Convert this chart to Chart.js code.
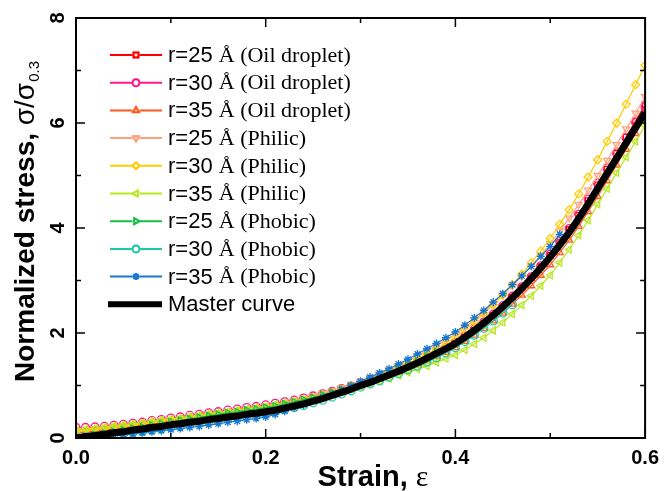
<!DOCTYPE html>
<html>
<head>
<meta charset="utf-8">
<script src="https://cdn.jsdelivr.net/npm/chart.js"></script>
<style>
  body { margin: 0; background: #fff; }
  canvas { display: block; }
</style>
</head>
<body>
<canvas id="stressChart" width="667" height="491"></canvas>
<script>
// strain values shared by every series (phobic runs stop earlier)
const strain = [0.00, 0.01, 0.02, 0.03, 0.04, 0.05, 0.06, 0.07, 0.08, 0.09,
    0.10, 0.11, 0.12, 0.13, 0.14, 0.15, 0.16, 0.17, 0.18, 0.19,
    0.20, 0.21, 0.22, 0.23, 0.24, 0.25, 0.26, 0.27, 0.28, 0.29,
    0.30, 0.31, 0.32, 0.33, 0.34, 0.35, 0.36, 0.37, 0.38, 0.39,
    0.40, 0.41, 0.42, 0.43, 0.44, 0.45, 0.46, 0.47, 0.48, 0.49,
    0.50, 0.51, 0.52, 0.53, 0.54, 0.55, 0.56, 0.57, 0.58, 0.59, 0.60];

const oil25 = [0.10, 0.12, 0.14, 0.16, 0.18, 0.20, 0.22, 0.25, 0.27, 0.30,
    0.32, 0.34, 0.37, 0.39, 0.42, 0.44, 0.46, 0.49, 0.51, 0.54,
    0.57, 0.60, 0.64, 0.68, 0.72, 0.76, 0.81, 0.86, 0.91, 0.96,
    1.02, 1.08, 1.14, 1.21, 1.28, 1.36, 1.44, 1.52, 1.61, 1.70,
    1.80, 1.92, 2.05, 2.19, 2.34, 2.50, 2.68, 2.86, 3.05, 3.26,
    3.48, 3.72, 3.97, 4.24, 4.52, 4.82, 5.12, 5.42, 5.73, 6.04, 6.35];
const oil30 = [0.20, 0.20, 0.21, 0.22, 0.24, 0.26, 0.28, 0.30, 0.33, 0.35,
    0.38, 0.40, 0.43, 0.45, 0.48, 0.50, 0.53, 0.55, 0.58, 0.60,
    0.63, 0.66, 0.69, 0.72, 0.76, 0.80, 0.84, 0.89, 0.94, 0.99,
    1.05, 1.11, 1.17, 1.24, 1.31, 1.38, 1.46, 1.54, 1.63, 1.72,
    1.82, 1.94, 2.07, 2.21, 2.36, 2.52, 2.70, 2.88, 3.07, 3.28,
    3.50, 3.74, 3.99, 4.26, 4.55, 4.85, 5.14, 5.43, 5.72, 6.01, 6.30];
const oil35 = [0.05, 0.07, 0.09, 0.11, 0.14, 0.16, 0.18, 0.21, 0.23, 0.26,
    0.28, 0.30, 0.33, 0.35, 0.38, 0.40, 0.42, 0.45, 0.48, 0.50,
    0.53, 0.56, 0.60, 0.64, 0.68, 0.72, 0.77, 0.82, 0.88, 0.94,
    1.00, 1.06, 1.12, 1.18, 1.25, 1.32, 1.39, 1.47, 1.55, 1.63,
    1.72, 1.84, 1.96, 2.09, 2.23, 2.38, 2.55, 2.72, 2.90, 3.10,
    3.30, 3.53, 3.77, 4.03, 4.31, 4.60, 4.90, 5.20, 5.50, 5.80, 6.10];
const philic25 = [0.15, 0.16, 0.18, 0.19, 0.21, 0.23, 0.25, 0.28, 0.30, 0.33,
    0.35, 0.37, 0.40, 0.42, 0.45, 0.47, 0.50, 0.52, 0.55, 0.57,
    0.60, 0.63, 0.67, 0.71, 0.75, 0.80, 0.85, 0.90, 0.96, 1.02,
    1.08, 1.15, 1.22, 1.30, 1.38, 1.47, 1.56, 1.66, 1.76, 1.87,
    1.98, 2.11, 2.25, 2.40, 2.56, 2.72, 2.90, 3.08, 3.28, 3.48,
    3.70, 3.94, 4.19, 4.45, 4.72, 5.00, 5.29, 5.59, 5.89, 6.19, 6.50];
const philic30 = [0.12, 0.14, 0.16, 0.18, 0.20, 0.22, 0.24, 0.27, 0.29, 0.32,
    0.34, 0.36, 0.39, 0.41, 0.44, 0.46, 0.48, 0.51, 0.53, 0.56,
    0.58, 0.61, 0.65, 0.69, 0.73, 0.77, 0.82, 0.87, 0.93, 0.99,
    1.05, 1.12, 1.19, 1.26, 1.34, 1.42, 1.51, 1.60, 1.70, 1.81,
    1.92, 2.06, 2.21, 2.37, 2.54, 2.72, 2.92, 3.12, 3.34, 3.56,
    3.80, 4.07, 4.35, 4.65, 4.97, 5.30, 5.65, 6.00, 6.36, 6.73, 7.10];
const philic35 = [0.15, 0.17, 0.19, 0.21, 0.23, 0.25, 0.27, 0.29, 0.32, 0.34,
    0.36, 0.38, 0.41, 0.43, 0.46, 0.48, 0.50, 0.53, 0.55, 0.58,
    0.60, 0.63, 0.66, 0.69, 0.72, 0.76, 0.80, 0.84, 0.88, 0.93,
    0.98, 1.03, 1.08, 1.13, 1.19, 1.25, 1.31, 1.37, 1.44, 1.51,
    1.58, 1.68, 1.79, 1.91, 2.05, 2.20, 2.36, 2.53, 2.71, 2.90,
    3.10, 3.34, 3.59, 3.86, 4.15, 4.45, 4.75, 5.05, 5.35, 5.65, 5.95];
const phobic25 = [0.00, 0.03, 0.06, 0.09, 0.12, 0.15, 0.18, 0.21, 0.24, 0.27,
    0.30, 0.33, 0.36, 0.39, 0.42, 0.45, 0.48, 0.50, 0.53, 0.55,
    0.58, 0.61, 0.65, 0.69, 0.73, 0.77, 0.82, 0.87, 0.92, 0.97,
    1.03, 1.09, 1.16, 1.23, 1.30, 1.38, 1.46, 1.55, 1.64];
const phobic30 = [0.00, 0.01, 0.03, 0.04, 0.06, 0.08, 0.10, 0.12, 0.15, 0.17,
    0.20, 0.23, 0.26, 0.28, 0.31, 0.34, 0.37, 0.39, 0.42, 0.44,
    0.47, 0.50, 0.54, 0.58, 0.62, 0.67, 0.72, 0.78, 0.84, 0.90,
    0.97, 1.03, 1.09, 1.16, 1.23, 1.30, 1.37, 1.45, 1.53, 1.62,
    1.72, 1.84, 1.96, 2.09, 2.23, 2.38, 2.54];
const phobic35 = [0.00, 0.01, 0.02, 0.03, 0.05, 0.06, 0.08, 0.10, 0.12, 0.14,
    0.16, 0.18, 0.20, 0.22, 0.25, 0.27, 0.30, 0.32, 0.35, 0.37,
    0.40, 0.45, 0.51, 0.57, 0.63, 0.70, 0.77, 0.84, 0.92, 1.00,
    1.08, 1.16, 1.24, 1.32, 1.41, 1.50, 1.60, 1.70, 1.80, 1.91,
    2.02, 2.15, 2.29, 2.43, 2.59, 2.75, 2.92, 3.09, 3.27, 3.46,
    3.65, 3.88];
const master = [0.00, 0.03, 0.05, 0.07, 0.10, 0.12, 0.15, 0.17, 0.20, 0.22,
    0.25, 0.27, 0.30, 0.32, 0.35, 0.37, 0.40, 0.42, 0.45, 0.47,
    0.50, 0.53, 0.57, 0.61, 0.65, 0.70, 0.75, 0.81, 0.87, 0.93,
    1.00, 1.06, 1.13, 1.20, 1.27, 1.35, 1.43, 1.52, 1.61, 1.70,
    1.80, 1.92, 2.05, 2.19, 2.34, 2.50, 2.67, 2.85, 3.04, 3.24,
    3.45, 3.68, 3.92, 4.18, 4.46, 4.75, 5.04, 5.33, 5.62, 5.91, 6.20];

const xMajorTicks = [0, 0.2, 0.4, 0.6];
const xMinorTicks = [0.1, 0.3, 0.5];
const yMajorTicks = [0, 2, 4, 6, 8];
const yMinorTicks = [1, 3, 5, 7];

// legend text: [sans part, serif part]
const legendText = [
    ['r=25 ', 'Å (Oil droplet)'], ['r=30 ', 'Å (Oil droplet)'], ['r=35 ', 'Å (Oil droplet)'],
    ['r=25 ', 'Å (Philic)'], ['r=30 ', 'Å (Philic)'], ['r=35 ', 'Å (Philic)'],
    ['r=25 ', 'Å (Phobic)'], ['r=30 ', 'Å (Phobic)'], ['r=35 ', 'Å (Phobic)'],
    ['Master curve', '']
];

function toPoints(vals) {
    return vals.map((v, i) => ({ x: strain[i], y: v }));
}

function series(label, vals, color, style, rot, order) {
    return {
        label: label,
        data: toPoints(vals),
        showLine: true,
        borderColor: color,
        borderWidth: 1.2,
        pointStyle: style,
        rotation: rot,
        pointRadius: 4,
        pointBorderWidth: 1.3,
        pointBorderColor: color,
        pointBackgroundColor: 'rgba(255,255,255,0)',
        clip: 0,
        order: order
    };
}

const datasets = [
    series('r=25 Å (Oil droplet)', oil25, '#ff0000', 'rect', 0, 9),
    series('r=30 Å (Oil droplet)', oil30, '#ff1a8c', 'circle', 0, 8),
    series('r=35 Å (Oil droplet)', oil35, '#ff5a1e', 'triangle', 0, 7),
    series('r=25 Å (Philic)', philic25, '#ffa07a', 'triangle', 180, 6),
    series('r=30 Å (Philic)', philic30, '#ffcc00', 'rectRot', 0, 5),
    series('r=35 Å (Philic)', philic35, '#b9e81e', 'triangle', 270, 4),
    series('r=25 Å (Phobic)', phobic25, '#14c046', 'triangle', 90, 3),
    series('r=30 Å (Phobic)', phobic30, '#1ec8aa', 'circle', 0, 2),
    series('r=35 Å (Phobic)', phobic35, '#1478d2', 'star', 0, 1),
    {
        label: 'Master curve',
        data: toPoints(master),
        showLine: true,
        borderColor: '#000',
        borderWidth: 7,
        pointRadius: 0,
        cubicInterpolationMode: 'monotone',
        clip: 0,
        order: 0
    }
];

const SANS = '"Liberation Sans", Arial, sans-serif';
const SERIF = '"Liberation Serif", "Times New Roman", serif';

const decorations = {
    id: 'decorations',
    afterDraw(chart) {
        const ctx = chart.ctx;
        const area = chart.chartArea;
        const xs = chart.scales.x;
        const ys = chart.scales.y;
        ctx.save();
        ctx.strokeStyle = '#000';
        ctx.fillStyle = '#000';

        // frame
        ctx.lineWidth = 2;
        ctx.strokeRect(area.left, area.top, area.right - area.left, area.bottom - area.top);

        // inward ticks on all four sides
        ctx.lineWidth = 1.5;
        ctx.beginPath();
        const xTick = (v, len) => {
            const px = xs.getPixelForValue(v);
            ctx.moveTo(px, area.bottom); ctx.lineTo(px, area.bottom - len);
            ctx.moveTo(px, area.top); ctx.lineTo(px, area.top + len);
        };
        const yTick = (v, len) => {
            const py = ys.getPixelForValue(v);
            ctx.moveTo(area.left, py); ctx.lineTo(area.left + len, py);
            ctx.moveTo(area.right, py); ctx.lineTo(area.right - len, py);
        };
        xMajorTicks.forEach(v => xTick(v, 9));
        xMinorTicks.forEach(v => xTick(v, 5));
        yMajorTicks.forEach(v => yTick(v, 9));
        yMinorTicks.forEach(v => yTick(v, 5));
        ctx.stroke();

        // y tick labels, rotated
        ctx.font = 'bold 20px ' + SANS;
        ctx.textAlign = 'center';
        ctx.textBaseline = 'alphabetic';
        yMajorTicks.forEach(v => {
            ctx.save();
            ctx.translate(64, ys.getPixelForValue(v));
            ctx.rotate(-Math.PI / 2);
            ctx.fillText(String(v), 0, 0);
            ctx.restore();
        });

        // y axis title
        ctx.save();
        const p1 = 'Normalized stress, ';
        const p2 = 'σ/σ';
        const p3 = '0.3';
        ctx.font = 'bold 28px ' + SANS;
        const w1 = ctx.measureText(p1).width;
        ctx.font = '28px ' + SANS;
        const w2 = ctx.measureText(p2).width;
        ctx.font = '15px ' + SANS;
        const w3 = ctx.measureText(p3).width;
        const total = w1 + w2 + w3;
        ctx.translate(34, 222 + total / 2);
        ctx.rotate(-Math.PI / 2);
        ctx.textAlign = 'left';
        ctx.font = 'bold 28px ' + SANS;
        ctx.fillText(p1, 0, 0);
        ctx.font = '28px ' + SANS;
        ctx.fillText(p2, w1, 0);
        ctx.font = '15px ' + SANS;
        ctx.fillText(p3, w1 + w2 + 1, 5);
        ctx.restore();

        // x axis title
        ctx.font = 'bold 29px ' + SANS;
        const s1 = 'Strain, ';
        const sw1 = ctx.measureText(s1).width;
        ctx.font = '30px ' + SERIF;
        const sw2 = ctx.measureText('ε').width;
        const sx = 373 - (sw1 + sw2) / 2;
        ctx.textAlign = 'left';
        ctx.font = 'bold 29px ' + SANS;
        ctx.fillText(s1, sx, 486);
        ctx.font = '30px ' + SERIF;
        ctx.fillText('ε', sx + sw1, 486);

        // legend: line + marker + text
        chart.data.datasets.forEach((ds, i) => {
            const y = 55 + i * 27.7;
            ctx.strokeStyle = ds.borderColor;
            ctx.lineWidth = i === 9 ? 6 : 2;
            ctx.beginPath();
            ctx.moveTo(i === 9 ? 108 : 110, y);
            ctx.lineTo(162, y);
            ctx.stroke();
            if (i < 9) {
                ctx.fillStyle = '#fff';
                ctx.beginPath();
                ctx.arc(136, y, 3.5, 0, Math.PI * 2);
                ctx.fill();
                Chart.helpers.drawPoint(ctx, {
                    pointStyle: ds.pointStyle,
                    rotation: ds.rotation,
                    radius: 3.5,
                    borderWidth: 1.5
                }, 136, y);
                ctx.strokeStyle = ds.borderColor;
                ctx.lineWidth = 1.5;
                ctx.stroke();
            }
            ctx.fillStyle = '#000';
            ctx.textBaseline = 'middle';
            ctx.font = '22px ' + SANS;
            const t = legendText[i];
            ctx.fillText(t[0], 168, y + 1);
            const tw = ctx.measureText(t[0]).width;
            ctx.font = '22px ' + SERIF;
            ctx.fillText(t[1], 168 + tw, y + 1);
        });
        ctx.restore();
    }
};

new Chart(document.getElementById('stressChart').getContext('2d'), {
    type: 'scatter',
    data: { datasets: datasets },
    options: {
        responsive: false,
        animation: false,
        layout: { padding: { top: 18, right: 19, left: 0, bottom: 0 } },
        plugins: {
            legend: { display: false },
            tooltip: { enabled: false }
        },
        scales: {
            x: {
                type: 'linear',
                min: 0,
                max: 0.6,
                afterFit(scale) { scale.height = 53; },
                afterBuildTicks(scale) { scale.ticks = xMajorTicks.map(v => ({ value: v })); },
                grid: { display: false, drawTicks: false },
                border: { display: false },
                ticks: {
                    padding: 8,
                    color: '#000',
                    font: { family: SANS, size: 20, weight: 'bold' },
                    callback: v => v.toFixed(1)
                }
            },
            y: {
                type: 'linear',
                min: 0,
                max: 8,
                afterFit(scale) { scale.width = 76; },
                grid: { display: false, drawTicks: false },
                border: { display: false },
                ticks: { display: false }
            }
        }
    },
    plugins: [decorations]
});
</script>
</body>
</html>
